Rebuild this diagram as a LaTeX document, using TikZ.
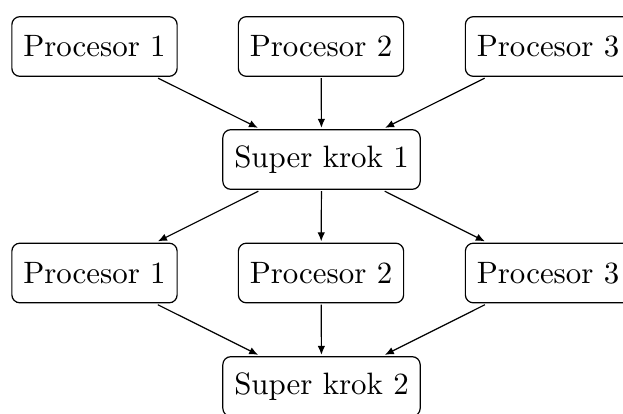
\documentclass[tikz,border=0pt]{standalone}
\usetikzlibrary{arrows.meta}
\begin{document}
\begin{tikzpicture}[
  scale=3.09, every node/.style={transform shape},
  x=0.3236pt, y=-0.3236pt,
  box/.style={draw, rounded corners=8pt, inner xsep=3.7pt,
              minimum height=19.3pt, line width=1.2pt},
  link/.style={-{Latex[length=9pt,width=7.5pt]}, line width=1.2pt}
]
\useasboundingbox (0,0) rectangle (623,413);

% first round: processors feeding the first superstep
\node[box] (p1) at (94.5,46.5) {Procesor 1};
\node[box] (p2) at (321,46.5) {Procesor 2};
\node[box] (p3) at (548,46.5) {Procesor 3};
\node[box] (s1) at (321.5,159.5) {Super krok 1};

% second round
\node[box] (q1) at (94.5,273) {Procesor 1};
\node[box] (q2) at (321,273) {Procesor 2};
\node[box] (q3) at (548,273) {Procesor 3};
\node[box] (s2) at (321.5,386.5) {Super krok 2};

\draw[link] (p1) -- (s1);
\draw[link] (p2) -- (s1);
\draw[link] (p3) -- (s1);
\draw[link] (s1) -- (q1);
\draw[link] (s1) -- (q2);
\draw[link] (s1) -- (q3);
\draw[link] (q1) -- (s2);
\draw[link] (q2) -- (s2);
\draw[link] (q3) -- (s2);
\end{tikzpicture}
\end{document}
